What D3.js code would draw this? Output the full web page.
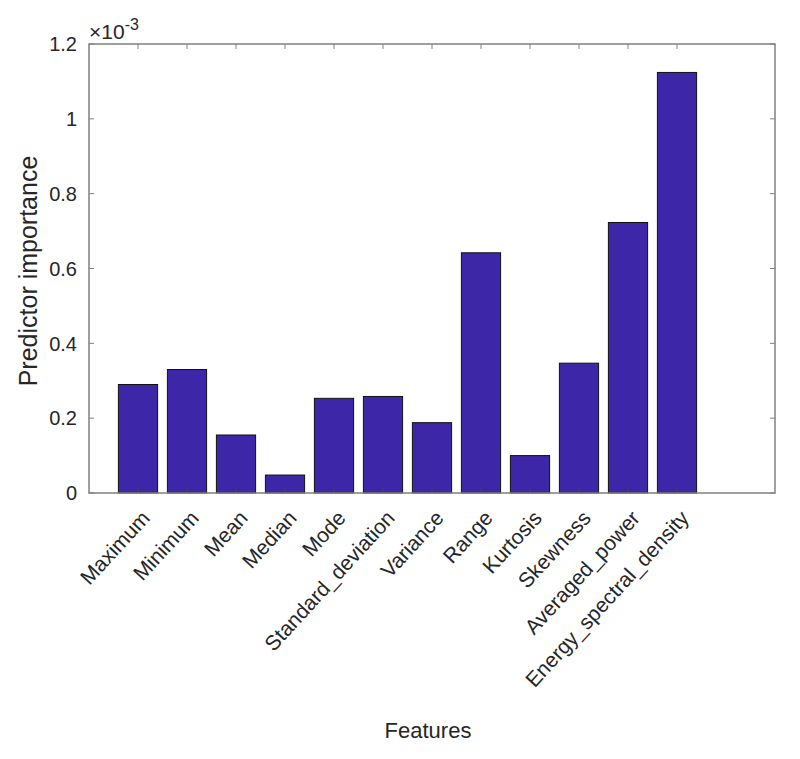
<!DOCTYPE html>
<html lang="en">
  <head>
    <meta charset="utf-8">
    <script src="https://d3js.org/d3.v7.min.js"></script>
    <style>
    body { margin: 0; background: #fff; }
    text { font-family: "Liberation Sans", Arial, sans-serif; fill: #262626; }
    </style>
  </head>
  <body>
    <div id="place"></div>
    <script type="text/javascript">
    // values (units of 1e-3)
    var features = ["Maximum", "Minimum", "Mean", "Median", "Mode", "Standard_deviation",
                    "Variance", "Range", "Kurtosis", "Skewness", "Averaged_power",
                    "Energy_spectral_density"];
    var importance = [0.290, 0.330, 0.155, 0.048, 0.253, 0.258, 0.188, 0.642, 0.100, 0.347, 0.723, 1.124];
    var yTicks = [0, 0.2, 0.4, 0.6, 0.8, 1, 1.2];

    var width = 800, height = 759;
    var margin = { top: 44, left: 89, right: 25, bottom: 266 };
    var innerW = width - margin.left - margin.right;
    var innerH = height - margin.top - margin.bottom;
    var axisColor = "#808080";

    var svg = d3.select('#place').append('svg')
        .attr('width', width)
        .attr('height', height);
    var g = svg.append('g')
        .attr('transform', `translate(${margin.left},${margin.top})`);

    // x runs 0..14 with bars on 1..12, like matlab's bar()
    var xScale = d3.scaleLinear().domain([0, 14]).range([0, innerW]);
    var yScale = d3.scaleLinear().domain([0, 1.2]).range([innerH, 0]);
    var barW = xScale(0.8) - xScale(0);

    g.selectAll('rect.bar')
      .data(importance)
      .enter().append('rect')
        .attr('class', 'bar')
        .attr('x', (d, i) => xScale(i + 1) - barW / 2)
        .attr('y', d => yScale(d))
        .attr('width', barW)
        .attr('height', d => yScale(0) - yScale(d))
        .attr('fill', '#3e26a8')
        .attr('stroke', '#111')
        .attr('stroke-width', 1);

    // inward ticks on all four sides
    var tickLen = 5;
    var xTickPos = d3.range(1, features.length + 1);
    g.selectAll('line.xb').data(xTickPos).enter().append('line')
        .attr('x1', d => xScale(d)).attr('x2', d => xScale(d))
        .attr('y1', innerH).attr('y2', innerH - tickLen)
        .attr('stroke', '#444').attr('stroke-width', 1);
    g.selectAll('line.xt').data(xTickPos).enter().append('line')
        .attr('x1', d => xScale(d)).attr('x2', d => xScale(d))
        .attr('y1', 0).attr('y2', tickLen)
        .attr('stroke', axisColor).attr('stroke-width', 1);
    g.selectAll('line.yl').data(yTicks).enter().append('line')
        .attr('x1', 0).attr('x2', tickLen)
        .attr('y1', d => yScale(d)).attr('y2', d => yScale(d))
        .attr('stroke', axisColor).attr('stroke-width', 1);
    g.selectAll('line.yr').data(yTicks).enter().append('line')
        .attr('x1', innerW).attr('x2', innerW - tickLen)
        .attr('y1', d => yScale(d)).attr('y2', d => yScale(d))
        .attr('stroke', axisColor).attr('stroke-width', 1);

    // box
    g.append('rect')
        .attr('x', 0).attr('y', 0)
        .attr('width', innerW).attr('height', innerH)
        .attr('fill', 'none')
        .attr('stroke', axisColor)
        .attr('stroke-width', 1.5);

    // y tick labels
    g.selectAll('text.ytick').data(yTicks).enter().append('text')
        .attr('x', -12)
        .attr('y', d => yScale(d))
        .attr('dy', '0.36em')
        .style('text-anchor', 'end')
        .style('font-size', '20px')
        .text(d => d3.format('~g')(d));

    // exponent
    var ex = g.append('text')
        .attr('x', 0).attr('y', -5)
        .style('font-size', '21px');
    ex.append('tspan').text('\u00d710');
    ex.append('tspan').attr('dy', -9).style('font-size', '16px').text('-3');

    // x tick labels, rotated (slightly steeper than 45, the source is stretched)
    g.selectAll('text.xtick').data(features).enter().append('text')
        .attr('transform', (d, i) => `translate(${xScale(i + 1) + 13},${innerH + 26}) rotate(-47.5)`)
        .style('text-anchor', 'end')
        .style('font-size', '21px')
        .text(d => d);

    // axis titles
    svg.append('text')
        .attr('transform', `translate(37,${271}) rotate(-90)`)
        .style('text-anchor', 'middle')
        .style('font-size', '25px')
        .text('Predictor importance');

    svg.append('text')
        .attr('x', 428)
        .attr('y', 738)
        .style('text-anchor', 'middle')
        .style('font-size', '22px')
        .text('Features');
    </script>
  </body>
</html>
